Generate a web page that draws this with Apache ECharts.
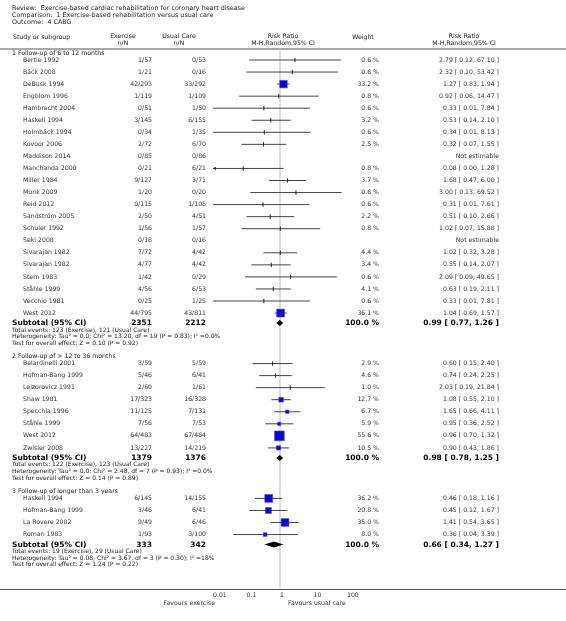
<!DOCTYPE html>
<html><head><meta charset="utf-8">
<script src="https://cdn.jsdelivr.net/npm/echarts@6/dist/echarts.min.js"></script>
<style>html,body{margin:0;padding:0;background:#fff}#c{width:566px;height:621px}</style>
</head><body><div id="c"></div>
<script>
// ---------- DATA ----------
const titleLines = [
  'Review:  Exercise-based cardiac rehabilitation for coronary heart disease',
  'Comparison:  1 Exercise-based rehabilitation versus usual care',
  'Outcome:  4 CABG'
];
const groupTitles = ['1 Follow-up of 6 to 12 months', '2 Follow-up of > 12 to 36 months', '3 Follow-up of longer than 3 years'];

const g1Names = ['Bertie 1992','Bäck 2008','DeBusk 1994','Engblom 1996','Hambrecht 2004','Haskell 1994','Holmbäck 1994','Kovoor 2006','Maddison 2014','Manchanda 2000','Miller 1984','Munk 2009','Reid 2012','Sandström 2005','Schuler 1992','Seki 2008','Sivarajan 1982','Sivarajan 1982','Stern 1983','Ståhle 1999','Vecchio 1981','West 2012'];
const g1Ex = ['1/57','1/21','42/293','1/119','0/51','3/145','0/34','2/72','0/85','0/21','9/127','1/20','0/115','2/50','1/56','0/18','7/72','4/77','1/42','4/56','0/25','44/795'];
const g1Uc = ['0/53','0/16','33/292','1/109','1/50','6/155','1/35','6/70','0/86','6/21','3/71','0/20','1/108','4/51','1/57','0/16','4/42','4/42','0/29','6/53','1/25','43/811'];
const g1Weight = [0.6,0.6,33.2,0.8,0.6,3.2,0.6,2.5,null,0.8,3.7,0.6,0.6,2.2,0.8,null,4.4,3.4,0.6,4.1,0.6,36.1];
const g1RR = [2.79,2.32,1.27,0.92,0.33,0.53,0.34,0.32,null,0.08,1.68,3.00,0.31,0.51,1.02,null,1.02,0.55,2.09,0.63,0.33,1.04];
const g1Lo = [0.12,0.10,0.83,0.06,0.01,0.14,0.01,0.07,null,0.00,0.47,0.13,0.01,0.10,0.07,null,0.32,0.14,0.09,0.19,0.01,0.69];
const g1Hi = [67.10,53.42,1.94,14.47,7.84,2.10,8.13,1.55,null,1.28,6.00,69.52,7.61,2.66,15.88,null,3.28,2.07,49.65,2.11,7.81,1.57];

const g2Names = ['Belardinelli 2001','Hofman-Bang 1999','Leizorovicz 1991','Shaw 1981','Specchia 1996','Ståhle 1999','West 2012','Zwisler 2008'];
const g2Ex = ['3/59','5/46','2/60','17/323','11/125','7/56','64/483','13/227'];
const g2Uc = ['5/59','6/41','1/61','16/328','7/131','7/53','67/484','14/219'];
const g2Weight = [2.9,4.6,1.0,12.7,6.7,5.9,55.6,10.5];
const g2RR = [0.60,0.74,2.03,1.08,1.65,0.95,0.96,0.90];
const g2Lo = [0.15,0.24,0.19,0.55,0.66,0.36,0.70,0.43];
const g2Hi = [2.40,2.25,21.84,2.10,4.11,2.52,1.32,1.86];

const g3Names = ['Haskell 1994','Hofman-Bang 1999','La Rovere 2002','Roman 1983'];
const g3Ex = ['6/145','3/46','9/49','1/93'];
const g3Uc = ['14/155','6/41','6/46','3/100'];
const g3Weight = [36.2,20.8,35.0,8.0];
const g3RR = [0.46,0.45,1.41,0.36];
const g3Lo = [0.18,0.12,0.54,0.04];
const g3Hi = [1.16,1.67,3.65,3.39];

const subTotalEx = [2351,1379,333];
const subTotalUc = [2212,1376,342];
const subWeight = [100.0,100.0,100.0];
const subRR = [0.99,0.98,0.66];
const subLo = [0.77,0.78,0.34];
const subHi = [1.26,1.25,1.27];
const groupNotes = [
  ['Total events: 123 (Exercise), 121 (Usual Care)',
   'Heterogeneity: Tau² = 0.0; Chi² = 13.20, df = 19 (P = 0.83); I² =0.0%',
   'Test for overall effect: Z = 0.10 (P = 0.92)'],
  ['Total events: 122 (Exercise), 123 (Usual Care)',
   'Heterogeneity: Tau² = 0.0; Chi² = 2.48, df = 7 (P = 0.93); I² =0.0%',
   'Test for overall effect: Z = 0.14 (P = 0.89)'],
  ['Total events: 19 (Exercise), 29 (Usual Care)',
   'Heterogeneity: Tau² = 0.08; Chi² = 3.67, df = 3 (P = 0.30); I² =18%',
   'Test for overall effect: Z = 1.24 (P = 0.22)']
];
const tickValues = [0.01, 0.1, 1, 10, 100];
const tickLabels = ['0.01', '0.1', '1', '10', '100'];
const refValue = 1;
const favourLeft = 'Favours exercise';
const favourRight = 'Favours usual care';

// ---------- LAYOUT ----------
const groups = [
  {names:g1Names, ex:g1Ex, uc:g1Uc, w:g1Weight, rr:g1RR, lo:g1Lo, hi:g1Hi},
  {names:g2Names, ex:g2Ex, uc:g2Uc, w:g2Weight, rr:g2RR, lo:g2Lo, hi:g2Hi},
  {names:g3Names, ex:g3Ex, uc:g3Uc, w:g3Weight, rr:g3RR, lo:g3Lo, hi:g3Hi}
];
const ROW = 12.05, AX_MIN = 0.01, AX_MAX = 100;
const AXIS_Y = 589, HEADER_LINE_Y = 49;
const FONT = '"DejaVu Sans", Verdana, sans-serif';
const fN = 6.2, fH = 6.2, fS = 6.0, fB = 7.5, fT = 6.4;

const rows = []; // {kind, g, i, y}
let cur = 53;
groups.forEach((g, gi) => {
  rows.push({kind:'ghead', g:gi, y:cur});
  let y = cur + 7;
  g.names.forEach((n, i) => { rows.push({kind:'study', g:gi, i, y: y + i*ROW}); });
  const last = y + (g.names.length-1)*ROW;
  const sub = last + 10;
  rows.push({kind:'sub', g:gi, y:sub});
  groupNotes[gi].forEach((t, k) => rows.push({kind:'note', g:gi, i:k, y: sub + 7 + k*6.6}));
  cur = sub + 33.5;
});

const ciData = [], ptData = [], dmData = [];
rows.forEach(r => {
  if (r.kind === 'study') {
    const g = groups[r.g];
    if (g.rr[r.i] != null) {
      ciData.push([g.lo[r.i], g.hi[r.i], r.y]);
      ptData.push([g.rr[r.i], r.y, g.w[r.i]]);
    }
  } else if (r.kind === 'sub') {
    dmData.push([subLo[r.g], subHi[r.g], r.y, subRR[r.g]]);
  }
});

const chart = echarts.init(document.getElementById('c'), null, {renderer:'canvas'});
const clampX = v => Math.min(AX_MAX, Math.max(AX_MIN, v));

const option = {
  backgroundColor: '#fff',
  animation: false,
  grid: {left: 213, right: 566 - 347, top: 0, bottom: 621 - AXIS_Y},
  xAxis: {
    type: 'log', logBase: 10, min: AX_MIN, max: AX_MAX,
    axisLine: {show: false},
    splitLine: {show: false},
    axisTick: {show: true, inside: true, length: 3, customValues: tickValues, lineStyle: {color: '#555', width: 1}},
    axisLabel: {
      customValues: tickValues, align: 'left', margin: 3,
      fontSize: 6.2, fontFamily: FONT, color: '#333',
      formatter: v => { let b = 0, bd = 1e9; tickValues.forEach((t, k) => { const d = Math.abs(Math.log10(t) - Math.log10(v)); if (d < bd) { bd = d; b = k; } }); return tickLabels[b]; }
    }
  },
  yAxis: {type: 'value', min: 0, max: AXIS_Y, inverse: true, show: false},
  series: [
    {
      type: 'line', silent: true, symbol: 'none', z: 1,
      data: [[refValue, HEADER_LINE_Y], [refValue, AXIS_Y]],
      lineStyle: {color: '#d4d4d4', width: 1.5}
    },
    {
      type: 'custom', silent: true, z: 2, clip: false,
      data: ciData,
      renderItem: (params, api) => {
        const lo = api.value(0), hi = api.value(1), y = api.value(2);
        const p1 = api.coord([clampX(lo), y]), p2 = api.coord([clampX(hi), y]);
        const children = [{type: 'line', shape: {x1: p1[0], y1: p1[1], x2: p2[0], y2: p2[1]}, style: {stroke: '#444', lineWidth: 1}}];
        if (lo < AX_MIN) children.push({type: 'polygon', shape: {points: [[p1[0], p1[1]], [p1[0] + 3, p1[1] - 1.6], [p1[0] + 3, p1[1] + 1.6]]}, style: {fill: '#222'}});
        if (hi > AX_MAX) children.push({type: 'polygon', shape: {points: [[p2[0], p2[1]], [p2[0] - 3, p2[1] - 1.6], [p2[0] - 3, p2[1] + 1.6]]}, style: {fill: '#222'}});
        return {type: 'group', children};
      }
    },
    {
      type: 'custom', silent: true, z: 3, clip: false,
      data: ptData,
      renderItem: (params, api) => {
        const p = api.coord([api.value(0), api.value(1)]);
        const w = api.value(2);
        if (w < 5) {
          return {type: 'line', shape: {x1: p[0], y1: p[1] - 2.2, x2: p[0], y2: p[1] + 2.2}, style: {stroke: '#222', lineWidth: 1}};
        }
        const s = 1.3 * Math.sqrt(w);
        return {type: 'rect', shape: {x: p[0] - s / 2, y: p[1] - s / 2, width: s, height: s}, style: {fill: '#0b0bc4', stroke: '#3c3cf0', lineWidth: 0.6}};
      }
    },
    {
      type: 'custom', silent: true, z: 3, clip: false,
      data: dmData,
      renderItem: (params, api) => {
        const y = api.value(2);
        const a = api.coord([api.value(0), y]), b = api.coord([api.value(1), y]), c = api.coord([api.value(3), y]);
        return {type: 'polygon', shape: {points: [[a[0], a[1]], [c[0], c[1] - 3], [b[0], b[1]], [c[0], c[1] + 3]]}, style: {fill: '#000'}};
      }
    }
  ]
};
chart.setOption(option);

// ---------- TEXT ----------
const py = v => chart.convertToPixel({yAxisIndex: 0}, v);
const T = (text, x, y, size, align, bold, color) => ({
  type: 'text', silent: true, z: 10,
  style: {text, x, y, align: align || 'left', verticalAlign: 'middle',
    font: (bold ? 'bold ' : 'normal ') + size + 'px ' + FONT, fill: color || '#222'}
});
const g = [];
titleLines.forEach((t, k) => g.push(T(t, 12, 8 + k * 7, fT)));
g.push(T('Study or subgroup', 13, 37, fH));
g.push(T('Exercise', 123, 36, fH, 'center'));
g.push(T('n/N', 123, 43, fH, 'center'));
g.push(T('Usual Care', 179, 36, fH, 'center'));
g.push(T('n/N', 179, 43, fH, 'center'));
g.push(T('Risk Ratio', 283, 36, fH, 'center'));
g.push(T('M-H,Random,95% CI', 283, 43, fH, 'center'));
g.push(T('Weight', 363, 37, fH, 'center'));
g.push(T('Risk Ratio', 464, 36, fH, 'center'));
g.push(T('M-H,Random,95% CI', 464, 43, fH, 'center'));
g.push({type: 'line', silent: true, shape: {x1: 0, y1: HEADER_LINE_Y, x2: 566, y2: HEADER_LINE_Y}, style: {stroke: '#a8a8a8', lineWidth: 2}});
g.push({type: 'line', silent: true, shape: {x1: 0, y1: AXIS_Y + 0.5, x2: 566, y2: AXIS_Y + 0.5}, style: {stroke: '#555', lineWidth: 1}});
g.push(T(favourLeft, 215, 603, 6.2, 'right', false, '#333'));
g.push(T(favourRight, 288, 603, 6.2, 'left', false, '#333'));

const fmt = v => v.toFixed(2);
rows.forEach(r => {
  const y = py(r.y);
  if (r.kind === 'ghead') g.push(T(groupTitles[r.g], 12, y, fN));
  else if (r.kind === 'study') {
    const gr = groups[r.g], i = r.i;
    g.push(T(gr.names[i], 23, y, fN, 'left', false, '#333'));
    g.push(T(gr.ex[i], 152, y, fN, 'right', false, '#333'));
    g.push(T(gr.uc[i], 206, y, fN, 'right', false, '#333'));
    if (gr.rr[i] == null) {
      g.push(T('Not estimable', 499, y, fN, 'right', false, '#333'));
    } else {
      g.push(T(gr.w[i].toFixed(1) + ' %', 379, y, fN, 'right', false, '#333'));
      g.push(T(fmt(gr.rr[i]) + ' [ ' + fmt(gr.lo[i]) + ', ' + fmt(gr.hi[i]) + ' ]', 499, y, fN, 'right', false, '#333'));
    }
  } else if (r.kind === 'sub') {
    g.push(T('Subtotal (95% CI)', 12, y, fB, 'left', true, '#000'));
    g.push(T(String(subTotalEx[r.g]), 152, y, fB, 'right', true, '#000'));
    g.push(T(String(subTotalUc[r.g]), 206, y, fB, 'right', true, '#000'));
    g.push(T(subWeight[r.g].toFixed(1) + ' %', 379, y, fB, 'right', true, '#000'));
    g.push(T(fmt(subRR[r.g]) + ' [ ' + fmt(subLo[r.g]) + ', ' + fmt(subHi[r.g]) + ' ]', 499, y, fB, 'right', true, '#000'));
  } else if (r.kind === 'note') {
    g.push(T(groupNotes[r.g][r.i], 12, y, fS, 'left', false, '#222'));
  }
});
chart.setOption({graphic: {elements: g}});
</script>
</body></html>
